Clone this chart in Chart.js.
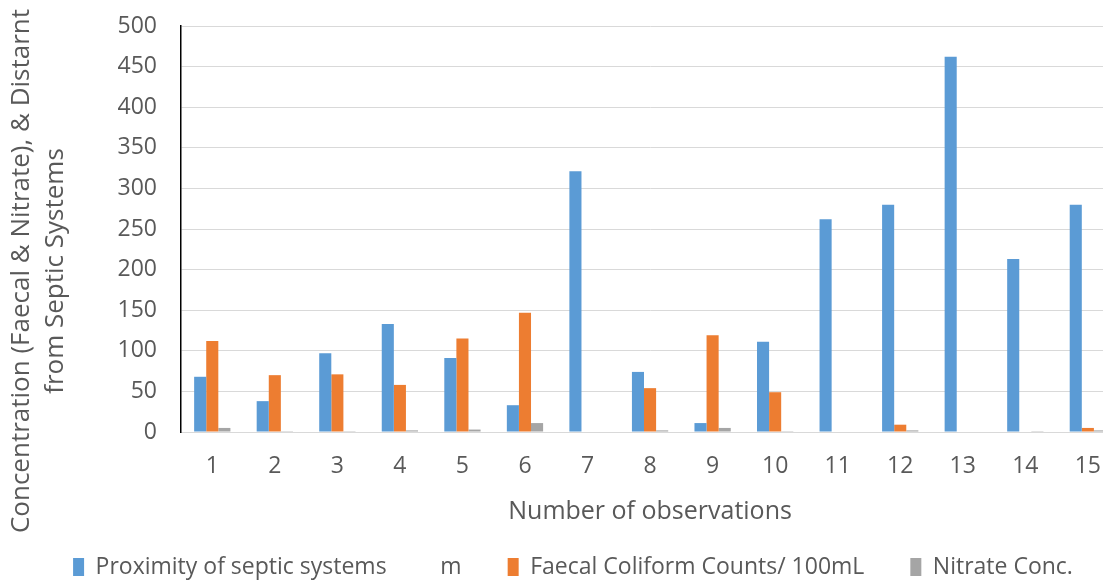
<!DOCTYPE html>
<html>
<head>
<meta charset="utf-8">
<script src="https://cdn.jsdelivr.net/npm/chart.js@4.4.1/dist/chart.umd.min.js"></script>
<style>
  body { margin: 0; overflow: hidden; background: #fff; }
  #wrap { width: 1122px; height: 580px; position: relative; }
</style>
</head>
<body>
<div id="wrap"><canvas id="chart"></canvas></div>
<script>
// Data
var observations = ['1', '2', '3', '4', '5', '6', '7', '8', '9', '10', '11', '12', '13', '14', '15'];
var proximity = [68, 38, 97, 133, 91, 33, 321, 74, 11, 111, 262, 280, 462, 213, 280];
var faecal = [112, 70, 71, 58, 115, 147, 0, 54, 119, 49, 0, 9, 0, 0, 5];
var nitrate = [5, 1, 1, 2, 3, 11, 0, 2, 5, 1, 0, 2, 0, 1, 2];

var seriesNames = ['Proximity of septic systems         m', 'Faecal Coliform Counts/ 100mL', 'Nitrate Conc.'];
var yTitleLines = ['Concentration (Faecal & Nitrate), & Distarnt', 'from Septic Systems'];
var xTitle = 'Number of observations';

var textColor = '#595959';
var fontFamily = "'Open Sans', sans-serif";

// y axis title drawn by hand so it can sit where the original has it
var yTitlePlugin = {
    id: 'yTitle',
    afterLayout: function (chart) {
        // legend sits a little right of centre in the original
        chart.legend.left += 12;
        chart.legend.right += 12;
    },
    afterDraw: function (chart) {
        var ctx = chart.ctx;
        ctx.save();
        ctx.fillStyle = textColor;
        ctx.font = '26px ' + fontFamily;
        ctx.textAlign = 'center';
        ctx.textBaseline = 'middle';
        var xs = [22, 56];
        yTitleLines.forEach(function (line, i) {
            ctx.save();
            ctx.translate(xs[i], 271);
            ctx.rotate(-Math.PI / 2);
            ctx.fillText(line, 0, 0);
            ctx.restore();
        });
        ctx.restore();
    }
};

new Chart(document.getElementById('chart'), {
    type: 'bar',
    data: {
        labels: observations,
        datasets: [
            { label: seriesNames[0], data: proximity, backgroundColor: '#5b9bd5' },
            { label: seriesNames[1], data: faecal, backgroundColor: '#ed7d31' },
            { label: seriesNames[2], data: nitrate, backgroundColor: '#a5a5a5' }
        ]
    },
    options: {
        responsive: true,
        maintainAspectRatio: false,
        animation: false,
        layout: { padding: { left: 0, right: 0, top: 26, bottom: -8.5 } },
        datasets: {
            bar: { categoryPercentage: 0.58, barPercentage: 1.0 }
        },
        plugins: {
            tooltip: { enabled: false },
            legend: {
                position: 'bottom',
                labels: {
                    color: textColor,
                    font: { family: fontFamily, size: 23 },
                    boxWidth: 11,
                    boxHeight: 18,
                    padding: 46
                }
            }
        },
        scales: {
            x: {
                afterFit: function (scale) { scale.height = 77.5; },
                grid: { display: false, drawTicks: false },
                border: { color: '#d9d9d9', width: 1 },
                ticks: {
                    color: textColor,
                    font: { family: fontFamily, size: 23 },
                    padding: 21
                },
                title: {
                    display: true,
                    text: xTitle,
                    color: textColor,
                    font: { family: fontFamily, size: 25 },
                    padding: { top: 0, bottom: -17.5 }
                }
            },
            y: {
                min: 0,
                max: 500,
                afterFit: function (scale) {
                    scale.width = 181;
                    scale.paddingTop = 0;
                },
                grid: { color: '#d9d9d9', drawTicks: false },
                border: { color: '#000000', width: 1.5 },
                ticks: {
                    stepSize: 50,
                    color: textColor,
                    font: { family: fontFamily, size: 23 },
                    padding: 24
                }
            }
        }
    },
    plugins: [yTitlePlugin]
});
</script>
</body>
</html>
